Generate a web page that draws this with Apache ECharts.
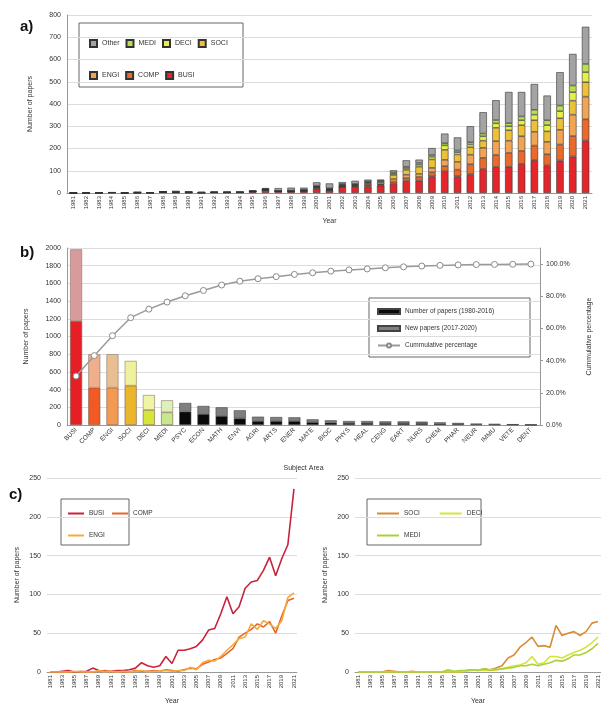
<!DOCTYPE html>
<html><head><meta charset="utf-8">
<script src="https://cdn.jsdelivr.net/npm/echarts@6/dist/echarts.min.js"></script>
<style>html,body{margin:0;padding:0;background:#fff}#c{width:601px;height:706px}</style>
</head><body><div id="c"></div>
<script>
// ---------- DATA ----------
const years = ['1981','1982','1983','1984','1985','1986','1987','1988','1989','1990','1991','1992','1993','1994','1995','1996','1997','1998','1999','2000','2001','2002','2003','2004','2005','2006','2007','2008','2009','2010','2011','2012','2013','2014','2015','2016','2017','2018','2019','2020','2021'];
const BUSI  = [0,0,1,2,0,0,1,5,2,1,1,2,2,3,5,12,8,6,8, 20,11,28,28,30,33,41,54,56,75,97,75,84,108,116,118,131, 148,124,146,164,236];
const COMP  = [0,0,0,0,0,1,0,0,1,2,0,1,0,0,2,1,1,2,1, 3,2,1,3,5,4,10,13,16,18,24,30,45,50,55,62,58, 65,50,72,92,95];
const ENGI  = [0,0,0,0,1,0,0,0,2,0,1,0,1,0,1,2,0,1,1, 2,1,2,2,6,3,12,15,14,20,28,35,43,45,62,55,66, 62,56,66,96,102];
const SOCI  = [0,0,0,0,0,2,1,0,0,1,0,0,0,0,0,1,0,0,2, 3,2,4,3,5,8,18,22,32,38,45,33,34,32,60,47,50, 52,47,52,63,65];
const DECI  = [0,0,0,0,0,0,0,0,0,0,0,0,0,0,0,0,0,0,1, 2,3,2,3,3,4,6,8,9,12,20,10,12,20,20,18,22, 25,28,32,38,45];
const MEDI  = [0,0,0,0,0,0,0,0,0,0,0,0,0,0,0,3,1,2,2, 3,2,4,2,3,4,5,6,8,8,10,8,10,12,15,14,17, 22,22,25,30,37];
const OTHER = [1,0,0,1,2,0,0,0,5,1,4,3,4,5,2,3,12,13,9, 15,22,8,14,8,4,10,29,15,31,43,59,72,96,89,140,110, 116,111,150,142,167];

const subjects   = ['BUSI','COMP','ENGI','SOCI','DECI','MEDI','PSYC','ECON','MATH','ENVI','AGRI','ARTS','ENER','MATE','BIOC','PHYS','HEAL','CENG','EART','NURS','CHEM','PHAR','NEUR','IMMU','VETE','DENT'];
const oldPapers  = [1176,422,422,445,170,143,151,124,102,75,45,45,45,32,26,23,23,21,21,20,15,12,7,5,4,2];
const newPapers  = [809,378,378,279,169,136,98,91,98,91,49,45,42,32,27,22,22,20,20,18,15,11,8,6,4,2];
const cumulative = [0.304,0.431,0.555,0.667,0.720,0.764,0.803,0.836,0.870,0.894,0.909,0.922,0.936,0.946,0.956,0.964,0.970,0.977,0.983,0.988,0.992,0.995,0.997,0.998,0.999,1.000];

// ---------- STYLE ----------
const C = {BUSI:'#e4262c',COMP:'#ea6a2e',ENGI:'#f2a455',SOCI:'#eec03a',DECI:'#e6f04a',MEDI:'#b9df4f',Other:'#a3a3a3'};
const lineC = {BUSI:'#c9233c',COMP:'#e8642a',ENGI:'#f5aa3c',SOCI:'#d98c33',DECI:'#d4e43a',MEDI:'#a9d23a'};
const lowCol = ['#e61f27','#f15a22','#f29a52','#ecb52e','#d6e53a','#c5e88d'];
const highCol = ['#d99a9c','#efae8c','#e7bf92','#eef29c','#f0f5a6','#ddf0b8'];
const FONT = 'Liberation Sans, Arial, sans-serif';
const lab = {fontSize:7, color:'#333', fontFamily:FONT};
const grid = '#dcdcdc';
const plain = function(v){ return String(v); };

const chart = echarts.init(document.getElementById('c'), null, {renderer:'canvas'});

function stackBar(name, data) {
  return {name, type:'bar', stack:'a', xAxisIndex:0, yAxisIndex:0, data, barWidth:'58%',
    itemStyle:{color:C[name], borderColor:'#333', borderWidth:0.6}};
}
function cLine(name, data, xi, yi) {
  return {name:name + ' ', type:'line', xAxisIndex:xi, yAxisIndex:yi, data, symbol:'none',
    lineStyle:{color:lineC[name], width:1.6}, itemStyle:{color:lineC[name]}};
}
function lineLegendItem(name) {
  return {name:name + ' ', icon:'rect', itemStyle:{color:lineC[name], borderWidth:0}};
}

const option = {
  animation:false,
  backgroundColor:'#fff',
  textStyle:{fontFamily:FONT},
  grid:[
    {left:67, top:15, width:525, height:178},
    {left:67, top:248, width:473, height:177},
    {left:47, top:478, width:250, height:194},
    {left:355, top:478, width:246, height:194}
  ],
  xAxis:[
    {gridIndex:0, type:'category', data:years, axisTick:{show:false},
     axisLine:{lineStyle:{color:'#999'}},
     axisLabel:Object.assign({}, lab, {rotate:90, interval:0, margin:3, fontSize:6}),
     name:'Year', nameLocation:'middle', nameGap:25, nameTextStyle:{fontSize:7,color:'#333'}},
    {gridIndex:1, type:'category', data:subjects, axisTick:{show:false},
     axisLine:{lineStyle:{color:'#999'}},
     axisLabel:Object.assign({}, lab, {rotate:45, interval:0, margin:4, fontSize:6.5}),
     name:'Subject Area', nameLocation:'middle', nameGap:40, nameTextStyle:{fontSize:7,color:'#333'}},
    {gridIndex:2, type:'category', data:years, axisTick:{show:false},
     axisLine:{lineStyle:{color:'#999'}},
     axisLabel:Object.assign({}, lab, {rotate:90, interval:1, margin:3, fontSize:6}),
     name:'Year', nameLocation:'middle', nameGap:26, nameTextStyle:{fontSize:7,color:'#333'}},
    {gridIndex:3, type:'category', data:years, axisTick:{show:false},
     axisLine:{lineStyle:{color:'#999'}},
     axisLabel:Object.assign({}, lab, {rotate:90, interval:1, margin:3, fontSize:6}),
     name:'Year', nameLocation:'middle', nameGap:26, nameTextStyle:{fontSize:7,color:'#333'}}
  ],
  yAxis:[
    {gridIndex:0, type:'value', min:0, max:800, interval:100,
     axisLine:{show:true, lineStyle:{color:'#999'}}, splitLine:{lineStyle:{color:grid}},
     axisLabel:Object.assign({}, lab, {margin:6, formatter:plain}),
     name:'Number of papers', nameLocation:'middle', nameGap:33, nameRotate:90, nameTextStyle:{fontSize:7,color:'#333'}},
    {gridIndex:1, type:'value', min:0, max:2000, interval:200,
     axisLine:{show:true, lineStyle:{color:'#999'}}, splitLine:{lineStyle:{color:grid}},
     axisLabel:Object.assign({}, lab, {margin:6, formatter:plain}),
     name:'Number of papers', nameLocation:'middle', nameGap:37, nameRotate:90, nameTextStyle:{fontSize:7,color:'#333'}},
    {gridIndex:1, type:'value', position:'right', min:0, max:1.1, interval:0.2,
     axisLine:{show:true, lineStyle:{color:'#999'}}, splitLine:{show:false},
     axisTick:{show:true, length:3, lineStyle:{color:'#999'}},
     axisLabel:Object.assign({}, lab, {margin:6, showMaxLabel:false,
       formatter:function(v){ return v > 1.001 ? '' : (v*100).toFixed(1)+'%'; }}),
     name:'Cummulative percentage', nameLocation:'middle', nameGap:46, nameRotate:90, nameTextStyle:{fontSize:7,color:'#333'}},
    {gridIndex:2, type:'value', min:0, max:250, interval:50,
     axisLine:{show:false}, splitLine:{lineStyle:{color:grid}},
     axisLabel:Object.assign({}, lab, {margin:6, formatter:plain}),
     name:'Number of papers', nameLocation:'middle', nameGap:26, nameRotate:90, nameTextStyle:{fontSize:7,color:'#333'}},
    {gridIndex:3, type:'value', min:0, max:250, interval:50,
     axisLine:{show:false}, splitLine:{lineStyle:{color:grid}},
     axisLabel:Object.assign({}, lab, {margin:6, formatter:plain}),
     name:'Number of papers', nameLocation:'middle', nameGap:26, nameRotate:90, nameTextStyle:{fontSize:7,color:'#333'}}
  ],
  legend:[
    {data:['Other','MEDI','DECI','SOCI'], icon:'rect', left:84, top:34, itemWidth:7, itemHeight:7, itemGap:6,
     textStyle:{fontSize:7, color:'#333', width:28}, selectedMode:false},
    {data:['ENGI','COMP','BUSI'], icon:'rect', left:84, top:66, itemWidth:7, itemHeight:7, itemGap:6,
     textStyle:{fontSize:7, color:'#333', width:28}, selectedMode:false},
    {data:[{name:'Number of papers (1980-2016)', icon:'rect'},{name:'New papers (2017-2020)', icon:'rect'},'Cummulative percentage'],
     orient:'vertical', left:372, top:303, itemWidth:22, itemHeight:5, itemGap:10,
     textStyle:{fontSize:6.5, color:'#333'}, selectedMode:false},
    {data:[lineLegendItem('BUSI'), lineLegendItem('COMP')], left:63, top:505, itemWidth:16, itemHeight:2, itemGap:6,
     textStyle:{fontSize:6.5, color:'#333', width:16}, selectedMode:false},
    {data:[lineLegendItem('ENGI')], left:63, top:527, itemWidth:16, itemHeight:2,
     textStyle:{fontSize:6.5, color:'#333'}, selectedMode:false},
    {data:[lineLegendItem('SOCI'), lineLegendItem('DECI')], left:372, top:505, itemWidth:22, itemHeight:2, itemGap:18,
     textStyle:{fontSize:6.5, color:'#333', width:22}, selectedMode:false},
    {data:[lineLegendItem('MEDI')], left:372, top:527, itemWidth:22, itemHeight:2,
     textStyle:{fontSize:6.5, color:'#333'}, selectedMode:false}
  ],
  graphic:[
    {type:'rect', shape:{x:79, y:23, width:164, height:64}, style:{fill:'none', stroke:'#666', lineWidth:1}},
    {type:'rect', shape:{x:369, y:298, width:161, height:59}, style:{fill:'none', stroke:'#666', lineWidth:1}},
    {type:'rect', shape:{x:61, y:499, width:68, height:46}, style:{fill:'none', stroke:'#666', lineWidth:1}},
    {type:'rect', shape:{x:367, y:499, width:114, height:46}, style:{fill:'none', stroke:'#666', lineWidth:1}},
    {type:'text', left:20, top:19, style:{text:'a)', font:'bold 15px '+FONT, fill:'#111'}},
    {type:'text', left:20, top:245, style:{text:'b)', font:'bold 15px '+FONT, fill:'#111'}},
    {type:'text', left:9, top:487, style:{text:'c)', font:'bold 15px '+FONT, fill:'#111'}}
  ],
  series:[
    stackBar('BUSI', BUSI), stackBar('COMP', COMP), stackBar('ENGI', ENGI),
    stackBar('SOCI', SOCI), stackBar('DECI', DECI), stackBar('MEDI', MEDI), stackBar('Other', OTHER),
    {name:'Number of papers (1980-2016)', type:'bar', stack:'b', xAxisIndex:1, yAxisIndex:1, barWidth:'66%',
     itemStyle:{color:'#0a0a0a', borderColor:'#444', borderWidth:0.6},
     data: oldPapers.map(function(v,i){ return i < lowCol.length ? {value:v, itemStyle:{color:lowCol[i], borderColor:'#7a5a4a'}} : v; })},
    {name:'New papers (2017-2020)', type:'bar', stack:'b', xAxisIndex:1, yAxisIndex:1, barWidth:'66%',
     itemStyle:{color:'#7f7f7f', borderColor:'#444', borderWidth:0.6},
     data: newPapers.map(function(v,i){ return i < highCol.length ? {value:v, itemStyle:{color:highCol[i], borderColor:'#8a7a6a'}} : v; })},
    {name:'Cummulative percentage', type:'line', xAxisIndex:1, yAxisIndex:2, data:cumulative,
     symbol:'circle', symbolSize:6, lineStyle:{color:'#9a9a9a', width:1.5},
     itemStyle:{color:'#fff', borderColor:'#8a8a8a', borderWidth:1}, z:5},
    cLine('BUSI', BUSI, 2, 3), cLine('COMP', COMP, 2, 3), cLine('ENGI', ENGI, 2, 3),
    cLine('SOCI', SOCI, 3, 4), cLine('DECI', DECI, 3, 4), cLine('MEDI', MEDI, 3, 4)
  ]
};
chart.setOption(option);
</script>
</body></html>
